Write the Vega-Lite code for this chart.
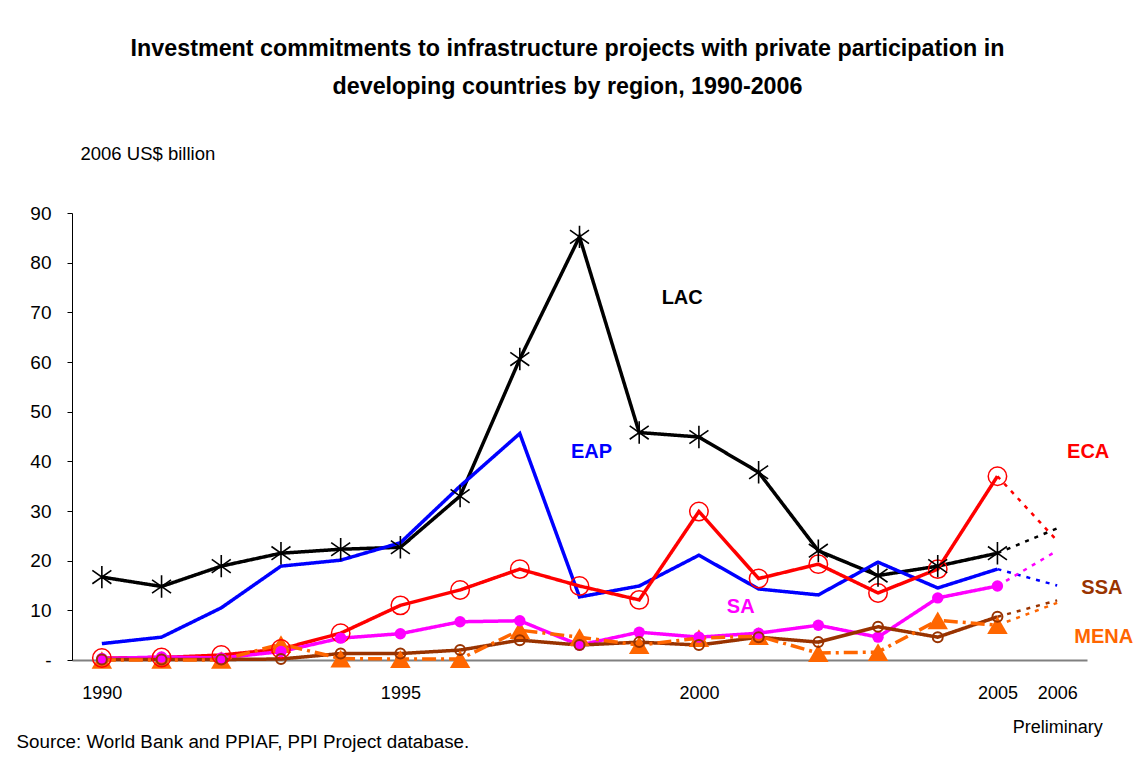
{
  "$schema": "https://vega.github.io/schema/vega-lite/v6.json",
  "width": 1015,
  "height": 447,
  "autosize": {"type": "none"},
  "padding": {"left": 72, "top": 213, "right": 48, "bottom": 100},
  "background": "white",
  "config": {
    "view": {"stroke": null},
    "font": "Liberation Sans"
  },
  "title": {
    "text": ["Investment commitments to infrastructure projects with private participation in", "developing countries by region, 1990-2006"],
    "font": "Liberation Sans",
    "fontSize": 23.3,
    "fontWeight": "bold",
    "lineHeight": 38,
    "anchor": "middle",
    "frame": "group",
    "offset": 45,
    "dx": -12,
    "color": "#000000"
  },
  "data": {
    "values": [
      {"region": "LAC", "year": 1990, "value": 16.7},
      {"region": "LAC", "year": 1991, "value": 14.8},
      {"region": "LAC", "year": 1992, "value": 18.9},
      {"region": "LAC", "year": 1993, "value": 21.5},
      {"region": "LAC", "year": 1994, "value": 22.3},
      {"region": "LAC", "year": 1995, "value": 22.7},
      {"region": "LAC", "year": 1996, "value": 33.0},
      {"region": "LAC", "year": 1997, "value": 60.6},
      {"region": "LAC", "year": 1998, "value": 85.2},
      {"region": "LAC", "year": 1999, "value": 45.8},
      {"region": "LAC", "year": 2000, "value": 44.9},
      {"region": "LAC", "year": 2001, "value": 37.8},
      {"region": "LAC", "year": 2002, "value": 22.0},
      {"region": "LAC", "year": 2003, "value": 17.0},
      {"region": "LAC", "year": 2004, "value": 18.9},
      {"region": "LAC", "year": 2005, "value": 21.5},
      {"region": "LAC", "year": 2006, "value": 26.5},
      {"region": "EAP", "year": 1990, "value": 3.3},
      {"region": "EAP", "year": 1991, "value": 4.6},
      {"region": "EAP", "year": 1992, "value": 10.5},
      {"region": "EAP", "year": 1993, "value": 18.9},
      {"region": "EAP", "year": 1994, "value": 20.1},
      {"region": "EAP", "year": 1995, "value": 23.6},
      {"region": "EAP", "year": 1996, "value": 35.0},
      {"region": "EAP", "year": 1997, "value": 45.6},
      {"region": "EAP", "year": 1998, "value": 12.7},
      {"region": "EAP", "year": 1999, "value": 14.9},
      {"region": "EAP", "year": 2000, "value": 21.1},
      {"region": "EAP", "year": 2001, "value": 14.3},
      {"region": "EAP", "year": 2002, "value": 13.1},
      {"region": "EAP", "year": 2003, "value": 19.7},
      {"region": "EAP", "year": 2004, "value": 14.5},
      {"region": "EAP", "year": 2005, "value": 18.3},
      {"region": "EAP", "year": 2006, "value": 15.0},
      {"region": "ECA", "year": 1990, "value": 0.4},
      {"region": "ECA", "year": 1991, "value": 0.5},
      {"region": "ECA", "year": 1992, "value": 1.0},
      {"region": "ECA", "year": 1993, "value": 2.2},
      {"region": "ECA", "year": 1994, "value": 5.4},
      {"region": "ECA", "year": 1995, "value": 11.0},
      {"region": "ECA", "year": 1996, "value": 14.1},
      {"region": "ECA", "year": 1997, "value": 18.3},
      {"region": "ECA", "year": 1998, "value": 14.9},
      {"region": "ECA", "year": 1999, "value": 12.1},
      {"region": "ECA", "year": 2000, "value": 29.9},
      {"region": "ECA", "year": 2001, "value": 16.4},
      {"region": "ECA", "year": 2002, "value": 19.3},
      {"region": "ECA", "year": 2003, "value": 13.5},
      {"region": "ECA", "year": 2004, "value": 18.3},
      {"region": "ECA", "year": 2005, "value": 37.0},
      {"region": "ECA", "year": 2006, "value": 24.0},
      {"region": "SA", "year": 1990, "value": 0.3},
      {"region": "SA", "year": 1991, "value": 0.6},
      {"region": "SA", "year": 1992, "value": 0.4},
      {"region": "SA", "year": 1993, "value": 1.7},
      {"region": "SA", "year": 1994, "value": 4.4},
      {"region": "SA", "year": 1995, "value": 5.3},
      {"region": "SA", "year": 1996, "value": 7.7},
      {"region": "SA", "year": 1997, "value": 7.9},
      {"region": "SA", "year": 1998, "value": 3.0},
      {"region": "SA", "year": 1999, "value": 5.6},
      {"region": "SA", "year": 2000, "value": 4.6},
      {"region": "SA", "year": 2001, "value": 5.4},
      {"region": "SA", "year": 2002, "value": 7.0},
      {"region": "SA", "year": 2003, "value": 4.6},
      {"region": "SA", "year": 2004, "value": 12.5},
      {"region": "SA", "year": 2005, "value": 14.9},
      {"region": "SA", "year": 2006, "value": 22.0},
      {"region": "SSA", "year": 1990, "value": 0.1},
      {"region": "SSA", "year": 1991, "value": 0.1},
      {"region": "SSA", "year": 1992, "value": 0.1},
      {"region": "SSA", "year": 1993, "value": 0.2},
      {"region": "SSA", "year": 1994, "value": 1.3},
      {"region": "SSA", "year": 1995, "value": 1.3},
      {"region": "SSA", "year": 1996, "value": 2.0},
      {"region": "SSA", "year": 1997, "value": 4.0},
      {"region": "SSA", "year": 1998, "value": 3.0},
      {"region": "SSA", "year": 1999, "value": 3.6},
      {"region": "SSA", "year": 2000, "value": 3.0},
      {"region": "SSA", "year": 2001, "value": 4.6},
      {"region": "SSA", "year": 2002, "value": 3.6},
      {"region": "SSA", "year": 2003, "value": 6.7},
      {"region": "SSA", "year": 2004, "value": 4.6},
      {"region": "SSA", "year": 2005, "value": 8.7},
      {"region": "SSA", "year": 2006, "value": 12.0},
      {"region": "MENA", "year": 1990, "value": 0.0},
      {"region": "MENA", "year": 1991, "value": 0.0},
      {"region": "MENA", "year": 1992, "value": 0.0},
      {"region": "MENA", "year": 1993, "value": 3.2},
      {"region": "MENA", "year": 1994, "value": 0.3},
      {"region": "MENA", "year": 1995, "value": 0.2},
      {"region": "MENA", "year": 1996, "value": 0.2},
      {"region": "MENA", "year": 1997, "value": 6.0},
      {"region": "MENA", "year": 1998, "value": 4.6},
      {"region": "MENA", "year": 1999, "value": 3.0},
      {"region": "MENA", "year": 2000, "value": 4.4},
      {"region": "MENA", "year": 2001, "value": 4.8},
      {"region": "MENA", "year": 2002, "value": 1.4},
      {"region": "MENA", "year": 2003, "value": 1.6},
      {"region": "MENA", "year": 2004, "value": 8.0},
      {"region": "MENA", "year": 2005, "value": 7.0},
      {"region": "MENA", "year": 2006, "value": 11.5}
    ]
  },
  "encoding": {
    "x": {
      "field": "year",
      "type": "quantitative",
      "scale": {"domain": [1989.5, 2006.5], "nice": false, "zero": false},
      "axis": {
        "values": [1990, 1995, 2000, 2005, 2006],
        "format": "d",
        "labelExpr": "datum.value == 2006 ? ['2006', 'Preliminary'] : datum.label",
        "labelFont": "Liberation Sans",
        "labelFontSize": 18,
        "labelColor": "#000000",
        "labelLineHeight": 34,
        "labelPadding": 24,
        "labelBaseline": "top",
        "labelFlush": false,
        "labelOverlap": false,
        "ticks": false,
        "tickSize": 0,
        "grid": false,
        "domainColor": "#808080",
        "domainWidth": 2,
        "title": "Source: World Bank and PPIAF, PPI Project database.",
        "titleFont": "Liberation Sans",
        "titleFontSize": 18.8,
        "titleFontWeight": "normal",
        "titleColor": "#000000",
        "titleAnchor": "start",
        "titleAlign": "left",
        "titleBaseline": "middle",
        "titleX": -56,
        "titleY": 81
      }
    },
    "y": {
      "field": "value",
      "type": "quantitative",
      "scale": {"domain": [0, 90], "nice": false},
      "axis": {
        "values": [0, 10, 20, 30, 40, 50, 60, 70, 80, 90],
        "labelExpr": "datum.value == 0 ? '-' : datum.label",
        "labelFont": "Liberation Sans",
        "labelFontSize": 19,
        "labelColor": "#000000",
        "labelPadding": 16,
        "tickSize": 5,
        "tickColor": "#000000",
        "domainColor": "#000000",
        "domainWidth": 1,
        "grid": false,
        "title": "2006 US$ billion",
        "titleFont": "Liberation Sans",
        "titleFontSize": 18.5,
        "titleFontWeight": "normal",
        "titleColor": "#000000",
        "titleAngle": 0,
        "titleAlign": "left",
        "titleBaseline": "middle",
        "titleX": 8,
        "titleY": -60
      }
    },
    "color": {
      "field": "region",
      "type": "nominal",
      "scale": {
        "domain": ["LAC", "EAP", "ECA", "SA", "SSA", "MENA"],
        "range": ["#000000", "#0000FF", "#FF0000", "#FF00FF", "#993300", "#FF6600"]
      },
      "legend": null
    }
  },
  "layer": [
    {
      "transform": [{"filter": "datum.year <= 2005"}],
      "mark": {"type": "line", "strokeWidth": 3.5},
      "encoding": {
        "strokeDash": {
          "field": "region",
          "type": "nominal",
          "scale": {
            "domain": ["LAC", "EAP", "ECA", "SA", "SSA", "MENA"],
            "range": [[1, 0], [1, 0], [1, 0], [1, 0], [1, 0], [14, 5, 3, 5]]
          },
          "legend": null
        }
      }
    },
    {
      "transform": [{"filter": "datum.year >= 2005"}],
      "mark": {"type": "line", "strokeWidth": 2.5, "strokeDash": [4, 6]},
      "encoding": {}
    },
    {
      "transform": [{"filter": "datum.region == 'MENA' && datum.year <= 2005"}],
      "mark": {"type": "point", "shape": "triangle-up", "size": 420, "filled": true, "opacity": 1},
      "encoding": {}
    },
    {
      "transform": [{"filter": "datum.region == 'ECA' && datum.year <= 2005"}],
      "mark": {"type": "point", "shape": "circle", "size": 340, "filled": false, "strokeWidth": 1.5, "opacity": 1},
      "encoding": {}
    },
    {
      "transform": [{"filter": "datum.region == 'SA' && datum.year <= 2005"}],
      "mark": {"type": "point", "shape": "circle", "size": 130, "filled": true, "opacity": 1},
      "encoding": {}
    },
    {
      "transform": [{"filter": "datum.region == 'SSA' && datum.year <= 2005"}],
      "mark": {"type": "point", "shape": "circle", "size": 100, "filled": false, "strokeWidth": 2, "opacity": 1},
      "encoding": {}
    },
    {
      "transform": [{"filter": "datum.region == 'LAC' && datum.year <= 2005"}],
      "mark": {"type": "point", "shape": "M0,-1L0,1M-0.85,-0.6L0.85,0.6M-0.85,0.6L0.85,-0.6", "size": 500, "filled": false, "strokeWidth": 1.6, "opacity": 1},
      "encoding": {}
    },
    {
      "data": {
        "values": [
          {"region": "LAC", "year": 1999.72, "value": 72.9},
          {"region": "EAP", "year": 1998.2, "value": 41.9},
          {"region": "SA", "year": 2000.7, "value": 10.7},
          {"region": "ECA", "year": 2006.52, "value": 41.9},
          {"region": "SSA", "year": 2006.75, "value": 14.5},
          {"region": "MENA", "year": 2006.78, "value": 4.6}
        ]
      },
      "mark": {"type": "text", "font": "Liberation Sans", "fontSize": 20, "fontWeight": "bold", "align": "center", "baseline": "middle"},
      "encoding": {
        "text": {"field": "region", "type": "nominal"}
      }
    }
  ]
}
